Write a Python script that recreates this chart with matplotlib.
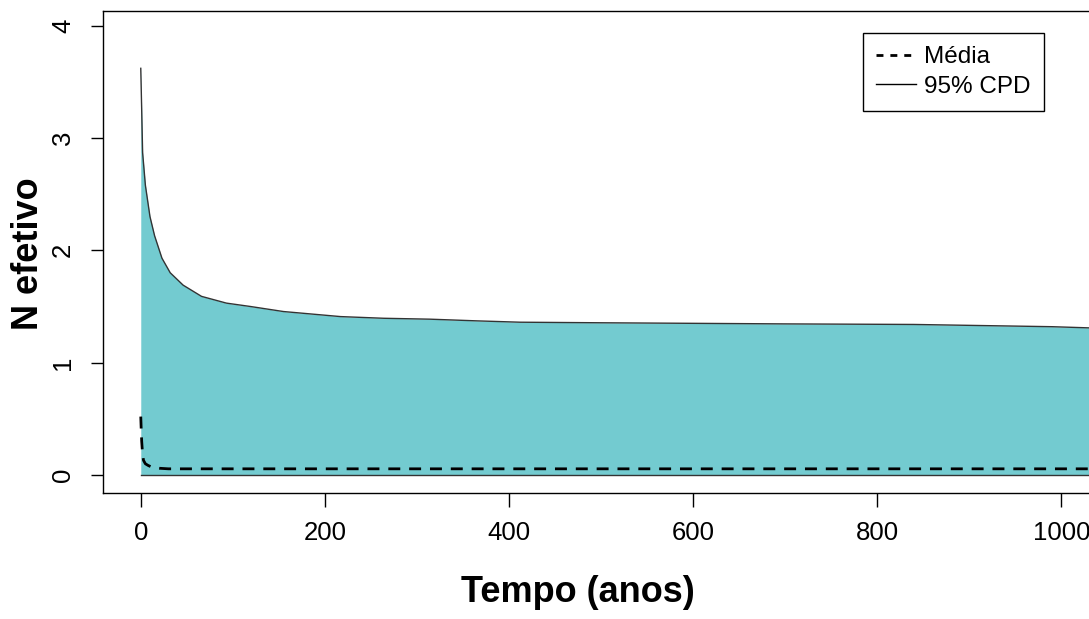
import matplotlib
matplotlib.use('agg')
import matplotlib.pyplot as plt
from matplotlib.lines import Line2D

plt.rcParams['font.family'] = ['Liberation Sans', 'DejaVu Sans']

# upper bound of the 95% CPD band
tempo = [0, 1, 2, 5, 10, 15, 23, 32, 46, 66, 93, 119, 155, 217, 264, 314, 365, 412,
         500, 600, 700, 840, 990, 1040]
cpd_sup = [3.62, 3.25, 2.87, 2.58, 2.30, 2.13, 1.93, 1.80, 1.69, 1.59, 1.53, 1.50, 1.455,
           1.41, 1.395, 1.387, 1.372, 1.36, 1.355, 1.35, 1.345, 1.34, 1.32, 1.307]
cpd_inf = [0.0] * len(tempo)
# mean
tempo_media = [0, 0.5, 1, 2, 3, 5, 8, 12, 20, 30, 50, 1040]
media = [0.52, 0.4, 0.3, 0.18, 0.13, 0.1, 0.085, 0.07, 0.06, 0.055, 0.055, 0.055]

fig = plt.figure(figsize=(10.89, 6.19), dpi=100)
ax = fig.add_axes([0.0946, 0.2036, 0.93, 0.7786])

ax.fill_between(tempo, cpd_inf, cpd_sup, color='#73cbd0', linewidth=0)
ax.plot(tempo, cpd_sup, color='#333333', linewidth=1)
ax.plot(tempo, cpd_inf, color='#333333', linewidth=1)
ax.plot(tempo_media, media, color='black', linestyle=(0, (4.3, 3.2)), linewidth=2)

ax.set_xlim(-41, 1059)
ax.set_ylim(-0.16, 4.13)
ax.set_xticks([0, 200, 400, 600, 800, 1000])
ax.set_yticks([0, 1, 2, 3, 4])
ax.tick_params(axis='x', labelsize=18.5, length=10, width=1, direction='out', pad=10)
ax.tick_params(axis='y', labelsize=18.5, length=9, width=1, direction='out', pad=11)
for lab in ax.get_yticklabels():
    lab.set_rotation(90)
    lab.set_va('center')

for s in ax.spines.values():
    s.set_linewidth(1)

ax.set_xlabel('Tempo (anos)', fontsize=26, fontweight='bold', va='center')
ax.xaxis.set_label_coords(578 / 1089, 1 - 593 / 619, transform=fig.transFigure)
ax.set_ylabel('N efetivo', fontsize=26, fontweight='bold', va='center')
ax.yaxis.set_label_coords(28 / 1089, 1 - 254 / 619, transform=fig.transFigure)

handles = [Line2D([], [], color='black', linestyle=(0, (2.5, 2.5)), linewidth=2),
           Line2D([], [], color='black', linewidth=1)]
leg = ax.legend(handles, ['Média', '95% CPD'], loc='upper left',
                bbox_to_anchor=(863 / 1089, 1 - 33 / 619), bbox_transform=fig.transFigure,
                fontsize=17.5, frameon=True, fancybox=False,
                edgecolor='black', framealpha=1, borderpad=0.55, handlelength=1.65,
                handletextpad=0.3, labelspacing=0.3, borderaxespad=0)
leg.get_frame().set_linewidth(1)

fig.savefig('out.png', dpi=100)
plt.close()
